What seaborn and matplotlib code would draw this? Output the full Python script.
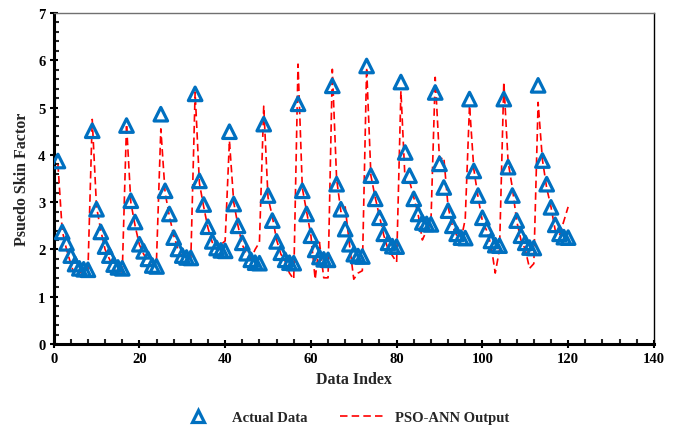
import numpy as np
import pandas as pd
import matplotlib
matplotlib.use("Agg")
import matplotlib.pyplot as plt
from matplotlib.lines import Line2D
from matplotlib.ticker import MultipleLocator
import seaborn as sns

data_index = list(range(1, 121))

actual_data = [
    3.87, 2.37, 2.13, 1.87, 1.69, 1.60, 1.58, 1.57,
    4.51, 2.85, 2.37, 2.06, 1.87, 1.68, 1.62, 1.60,
    4.62, 3.03, 2.58, 2.11, 1.96, 1.80, 1.66, 1.64,
    4.86, 3.24, 2.75, 2.25, 2.01, 1.87, 1.83, 1.82,
    5.29, 3.45, 2.95, 2.48, 2.17, 2.03, 1.98, 1.97,
    4.49, 2.96, 2.50, 2.14, 1.92, 1.78, 1.72, 1.71,
    4.65, 3.14, 2.61, 2.17, 1.93, 1.78, 1.72, 1.71,
    5.08, 3.24, 2.75, 2.29, 1.99, 1.84, 1.79, 1.78,
    5.46, 3.38, 2.85, 2.43, 2.11, 1.90, 1.86, 1.85,
    5.88, 3.56, 3.07, 2.67, 2.33, 2.14, 2.07, 2.06,
    5.54, 4.05, 3.56, 3.07, 2.75, 2.57, 2.54, 2.53,
    5.32, 3.81, 3.31, 2.82, 2.50, 2.33, 2.25, 2.24,
    5.18, 3.66, 3.14, 2.67, 2.43, 2.18, 2.09, 2.08,
    5.18, 3.74, 3.14, 2.61, 2.29, 2.14, 2.04, 2.03,
    5.47, 3.88, 3.38, 2.89, 2.52, 2.33, 2.26, 2.25,
]

pso_ann_output = [
    3.80, 2.40, 2.00, 1.70, 1.42, 1.50, 1.55, 1.55,
    4.75, 2.90, 2.40, 2.00, 1.80, 1.60, 1.48, 1.50,
    4.65, 3.00, 2.50, 2.10, 1.90, 1.75, 1.65, 1.80,
    4.55, 3.20, 2.70, 2.30, 2.00, 1.85, 1.80, 1.80,
    5.33, 3.40, 2.90, 2.45, 2.15, 2.00, 2.10, 2.18,
    4.30, 3.00, 2.50, 2.10, 1.90, 1.80, 2.00, 2.15,
    5.03, 3.10, 2.70, 2.20, 1.90, 1.75, 1.50, 1.37,
    5.92, 3.30, 2.80, 2.30, 1.37, 2.15, 1.40, 1.40,
    5.81, 3.49, 2.80, 2.90, 2.10, 1.37, 1.50, 1.55,
    5.85, 3.56, 3.10, 2.70, 2.30, 2.00, 1.87, 1.73,
    5.35, 3.40, 3.45, 3.10, 2.75, 2.20, 2.40, 2.57,
    5.64, 3.90, 3.95, 2.90, 2.50, 2.30, 2.20, 2.64,
    5.05, 3.70, 3.10, 2.60, 2.40, 2.10, 1.50, 2.00,
    5.54, 3.85, 3.30, 2.60, 2.20, 2.00, 1.60, 1.70,
    5.11, 3.90, 3.30, 2.90, 2.40, 2.30, 2.60, 2.90,
]

x_label = "Data Index"
y_label = "Psuedo Skin Factor"
series_names = ["Actual Data", "PSO-ANN Output"]

df = pd.DataFrame({"idx": data_index, "actual": actual_data, "pred": pso_ann_output})

sns.set_theme(style="white")
plt.rcParams["font.family"] = ["Liberation Serif", "DejaVu Serif"]
plt.rcParams["font.weight"] = "bold"

blue = "#0070C0"
red = "#FF0000"

fig = plt.figure(figsize=(6.79, 4.31), dpi=100)
ax = fig.add_axes([0.079, 0.1995, 0.884, 0.768])

sns.lineplot(data=df, x="idx", y="pred", ax=ax, color=red, linewidth=1.2,
             linestyle=(0, (4.5, 2.5)), zorder=2)
sns.scatterplot(data=df, x="idx", y="actual", ax=ax, marker="^", s=95,
                facecolor="none", edgecolor=blue, linewidth=2.3, zorder=3)

ax.set_xlim(0, 140)
ax.set_ylim(0, 7)
ax.xaxis.set_major_locator(MultipleLocator(20))
ax.xaxis.set_minor_locator(MultipleLocator(4))
ax.yaxis.set_major_locator(MultipleLocator(1))
ax.yaxis.set_minor_locator(MultipleLocator(0.2))

ax.tick_params(axis="both", which="major", direction="inout", length=6, width=1.5,
               labelsize=10.5, colors="black", pad=3, bottom=True, left=True)
ax.tick_params(axis="both", which="minor", direction="in", length=3.5, width=1.5,
               bottom=True, left=True)
for lab in ax.get_xticklabels() + ax.get_yticklabels():
    lab.set_fontweight("bold")

for s in ["left", "bottom"]:
    ax.spines[s].set_linewidth(2.2)
    ax.spines[s].set_color("black")
ax.spines["top"].set_linewidth(1.0)
ax.spines["top"].set_color("#707070")
ax.spines["right"].set_linewidth(1.0)
ax.spines["right"].set_color("black")

ax.set_xlabel(x_label, fontsize=11.5, fontweight="bold", labelpad=4)
ax.set_ylabel(y_label, fontsize=11.5, fontweight="bold", labelpad=6)
ax.grid(False)

handles = [
    Line2D([], [], marker="^", linestyle="none", markersize=9, markerfacecolor="none",
           markeredgecolor=blue, markeredgewidth=2.3),
    Line2D([], [], color=red, linewidth=1.2, linestyle=(0, (4.5, 2.5))),
]
fig.legend(handles, series_names, loc="center", bbox_to_anchor=(0.505, 0.03), ncol=2,
           frameon=False, prop={"weight": "bold", "size": 10.5}, handlelength=3,
           columnspacing=2.2, handletextpad=0.8)

fig.savefig("out.png", dpi=100)
